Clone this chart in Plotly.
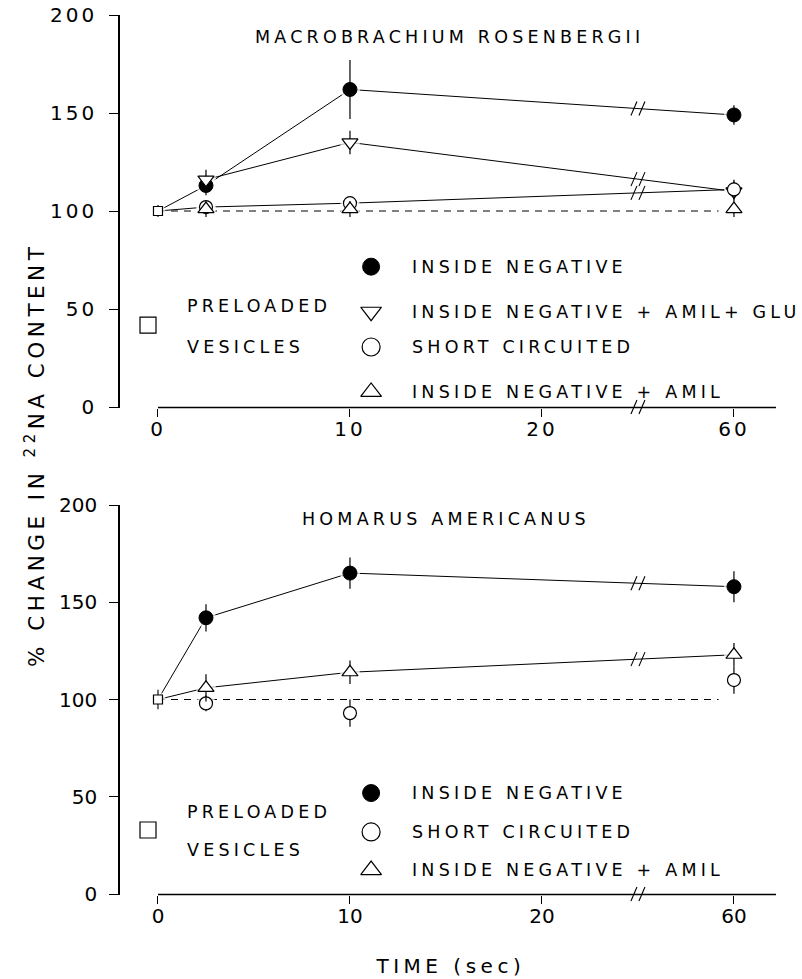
import numpy as np
import plotly.graph_objects as go

# ---------------- data ----------------
TIME_S = [2.5, 10, 60]          # sampling times (sec)
PRELOAD_TIME = 0
PRELOAD_PCT = 100
BASELINE_PCT = 100

# Macrobrachium rosenbergii
MR_INSIDE_NEG = [113, 162, 149]
MR_INSIDE_NEG_ERR = [5, 15, 5]
MR_AMIL_GLU = [116, 135, 110]
MR_AMIL_GLU_ERR = [5, 6, 5]
MR_SHORT = [102, 104, 111]
MR_SHORT_ERR = [3, 3, 5]
MR_AMIL = [101, 101, 101]
MR_AMIL_ERR = [4, 4, 4]
MR_PRELOAD_ERR = 3

# Homarus americanus
HA_INSIDE_NEG = [142, 165, 158]
HA_INSIDE_NEG_ERR = [7, 8, 8]
HA_SHORT = [98, 93, 110]
HA_SHORT_ERR = [4, 7, 7]
HA_AMIL = [106, 114, 123]
HA_AMIL_ERR = [7, 6, 6]
HA_PRELOAD_ERR = 5

X_TICK_TIMES = [0, 10, 20, 60]
X_TICK_LABELS = ["0", "10", "20", "60"]
Y_TICKS = [0, 50, 100, 150, 200]

LBL_INSIDE_NEG = "INSIDE NEGATIVE"
LBL_AMIL_GLU = "INSIDE NEGATIVE + AMIL+ GLU"
LBL_SHORT = "SHORT CIRCUITED"
LBL_AMIL = "INSIDE NEGATIVE + AMIL"

# ---------------- broken time axis ----------------
BREAK_TIMES = [0, 20, 60]
BREAK_POS = [0, 20, 30]
BREAK_AT = 25


def axis_pos(t):
    return np.interp(t, BREAK_TIMES, BREAK_POS)


# ---------------- geometry ----------------
W, H = 802, 979
ML, MRG = 120, 26
PW = W - ML - MRG
X_RANGE = [-1.979, 32.19]
Y_RANGE = [-0.4, 200]
PANEL_PX = {"top": (407, 15), "bot": (894, 505)}   # pixel rows of y=0 and y=200

FONT = "DejaVu Sans"
TEXT_SIZE = 17.5
INK = "black"


def px_x(pos):
    return ML + (pos - X_RANGE[0]) * PW / (X_RANGE[1] - X_RANGE[0])


def px_y(panel, val):
    y0, y200 = PANEL_PX[panel]
    return y0 - val * (y0 - y200) / 200.0


def paper_x(px):
    return (px - ML) / PW


def paper_y(py):
    return 1 - py / H


def domain(panel):
    return [paper_y(px_y(panel, Y_RANGE[0])), paper_y(px_y(panel, Y_RANGE[1]))]


fig = go.Figure()
shapes = []
annotations = []

SYM = {
    "filled": dict(symbol="circle", color=INK, size=14, line=dict(color=INK, width=1)),
    "circle": dict(symbol="circle", color="white", size=13, line=dict(color=INK, width=1.2)),
    "tri_up": dict(symbol="triangle-up", color="white", size=14, line=dict(color=INK, width=1.2)),
    "tri_dn": dict(symbol="triangle-down", color="white", size=14, line=dict(color=INK, width=1.2)),
    "square": dict(symbol="square", color="white", size=9, line=dict(color=INK, width=1.2)),
}


def break_mark(cx, cy):
    for dx in (-4, 4):
        shapes.append(dict(
            type="line", xref="paper", yref="paper",
            x0=paper_x(cx + dx - 3), y0=paper_y(cy + 7),
            x1=paper_x(cx + dx + 3), y1=paper_y(cy - 7),
            line=dict(color=INK, width=1.1)))


def label(text, x, y, xa, ya):
    annotations.append(dict(text=text, x=x, y=y, xref=xa, yref=ya,
                            xanchor="left", yanchor="middle", showarrow=False,
                            font=dict(family=FONT, size=TEXT_SIZE, color=INK)))


def add_panel(panel, xa, ya, series, preload_err, title, title_x, title_y, legend, legend_y, sq_y, pre_y):
    xs = axis_pos(TIME_S)
    px0 = axis_pos(PRELOAD_TIME)

    # dashed reference level
    fig.add_trace(go.Scatter(
        x=[px0, 29.2], y=[BASELINE_PCT, BASELINE_PCT], mode="lines",
        line=dict(color=INK, width=1, dash="7px,6px"),
        xaxis=xa, yaxis=ya, showlegend=False, hoverinfo="skip"))

    # connecting lines
    for s in series:
        if not s["line"]:
            continue
        lx = list(xs)
        ly = list(s["y"])
        if s["from_preload"]:
            lx = [px0] + lx
            ly = [PRELOAD_PCT] + ly
        fig.add_trace(go.Scatter(
            x=lx, y=ly, mode="lines", line=dict(color=INK, width=1),
            xaxis=xa, yaxis=ya, showlegend=False, hoverinfo="skip"))
        yb = float(np.interp(BREAK_AT, lx, ly))
        break_mark(px_x(BREAK_AT), px_y(panel, yb))

    # white halos leave small gaps where lines meet the symbols
    hx, hy, hs = [px0], [PRELOAD_PCT], [SYM["square"]["size"] + 6]
    for s in series:
        hx += list(xs)
        hy += list(s["y"])
        hs += [SYM[s["sym"]]["size"] + 6] * len(xs)
    fig.add_trace(go.Scatter(
        x=hx, y=hy, mode="markers",
        marker=dict(size=hs, color="white", symbol="circle", line=dict(width=0)),
        xaxis=xa, yaxis=ya, showlegend=False, hoverinfo="skip"))

    # preloaded vesicles
    fig.add_trace(go.Scatter(
        x=[px0], y=[PRELOAD_PCT], mode="markers", marker=SYM["square"],
        error_y=dict(type="data", array=[preload_err], width=0, thickness=1.1, color=INK),
        xaxis=xa, yaxis=ya, showlegend=False))

    # data symbols with error bars
    for s in series:
        fig.add_trace(go.Scatter(
            x=xs, y=s["y"], mode="markers", marker=SYM[s["sym"]],
            error_y=dict(type="data", array=s["err"], width=0, thickness=1.2, color=INK),
            xaxis=xa, yaxis=ya, showlegend=False, name=s["name"]))

    # x axis line (starts at time zero) and its break
    shapes.append(dict(type="line", xref="paper", yref="paper",
                       x0=paper_x(px_x(0)), x1=paper_x(px_x(X_RANGE[1])),
                       y0=paper_y(px_y(panel, 0) + 0.5), y1=paper_y(px_y(panel, 0) + 0.5),
                       line=dict(color=INK, width=1.5)))
    break_mark(px_x(BREAK_AT), px_y(panel, 0))

    # panel title
    label(title, title_x, title_y, xa, ya)

    # key
    kx, tx = 11.1, 13.1
    for (sym, text), ly_ in zip(legend, legend_y):
        m = dict(SYM[sym])
        m["size"] = 18 if sym != "filled" else 17
        fig.add_trace(go.Scatter(x=[kx], y=[ly_], mode="markers", marker=m,
                                 xaxis=xa, yaxis=ya, showlegend=False, hoverinfo="skip"))
        label(text, tx, ly_, xa, ya)
    msq = dict(SYM["square"])
    msq["size"] = 16
    fig.add_trace(go.Scatter(x=[-0.52], y=[sq_y], mode="markers", marker=msq,
                             xaxis=xa, yaxis=ya, showlegend=False, hoverinfo="skip",
                             cliponaxis=False))
    for txt, yy in zip(["PRELOADED", "VESICLES"], pre_y):
        label(txt, 1.4, yy, xa, ya)


top_series = [
    dict(name=LBL_INSIDE_NEG, y=MR_INSIDE_NEG, err=MR_INSIDE_NEG_ERR, sym="filled", line=True, from_preload=True),
    dict(name=LBL_AMIL_GLU, y=MR_AMIL_GLU, err=MR_AMIL_GLU_ERR, sym="tri_dn", line=True, from_preload=False),
    dict(name=LBL_SHORT, y=MR_SHORT, err=MR_SHORT_ERR, sym="circle", line=True, from_preload=True),
    dict(name=LBL_AMIL, y=MR_AMIL, err=MR_AMIL_ERR, sym="tri_up", line=False, from_preload=False),
]
bot_series = [
    dict(name=LBL_INSIDE_NEG, y=HA_INSIDE_NEG, err=HA_INSIDE_NEG_ERR, sym="filled", line=True, from_preload=True),
    dict(name=LBL_SHORT, y=HA_SHORT, err=HA_SHORT_ERR, sym="circle", line=False, from_preload=False),
    dict(name=LBL_AMIL, y=HA_AMIL, err=HA_AMIL_ERR, sym="tri_up", line=True, from_preload=True),
]

add_panel("top", "x", "y", top_series, MR_PRELOAD_ERR,
          "MACROBRACHIUM ROSENBERGII", 4.95, 189,
          [("filled", LBL_INSIDE_NEG), ("tri_dn", LBL_AMIL_GLU), ("circle", LBL_SHORT), ("tri_up", LBL_AMIL)],
          [71.6, 48.6, 30.6, 7.7], 41.8, [51.5, 30.6])
add_panel("bot", "x2", "y2", bot_series, HA_PRELOAD_ERR,
          "HOMARUS AMERICANUS", 7.4, 192.8,
          [("filled", LBL_INSIDE_NEG), ("circle", LBL_SHORT), ("tri_up", LBL_AMIL)],
          [51.9, 31.9, 12.3], 32.9, [42.2, 22.6])

tick_font = dict(family=FONT, size=20, color=INK)
xaxis_style = dict(range=X_RANGE, tickvals=list(axis_pos(X_TICK_TIMES)), ticktext=X_TICK_LABELS,
                   ticks="outside", ticklen=8, tickwidth=1.3, tickcolor=INK, automargin=False,
                   showline=False, showgrid=False, zeroline=False, tickfont=tick_font,
                   ticklabelstandoff=-5)
yaxis_style = dict(range=Y_RANGE, tickvals=Y_TICKS, ticks="outside", ticklen=9, tickwidth=1.3,
                   tickcolor=INK, showline=True, linecolor=INK, linewidth=1.5, automargin=False,
                   showgrid=False, zeroline=False, tickfont=tick_font, ticklabelstandoff=8)

annotations.append(dict(text="% CHANGE IN <sup>22</sup>NA CONTENT", textangle=-90,
                        x=paper_x(35), y=paper_y(455), xref="paper", yref="paper",
                        xanchor="center", yanchor="middle", showarrow=False,
                        font=dict(family=FONT, size=21.5, color=INK)))
annotations.append(dict(text="TIME (sec)", x=paper_x(450), y=paper_y(966), xref="paper", yref="paper",
                        xanchor="center", yanchor="middle", showarrow=False,
                        font=dict(family=FONT, size=20, color=INK)))

fig.update_layout(
    width=W, height=H, margin=dict(l=ML, r=MRG, t=0, b=0, autoexpand=False),
    paper_bgcolor="white", plot_bgcolor="white",
    xaxis=dict(domain=[0, 1], anchor="y", **xaxis_style),
    yaxis=dict(domain=domain("top"), anchor="x", **yaxis_style),
    xaxis2=dict(domain=[0, 1], anchor="y2", **xaxis_style),
    yaxis2=dict(domain=domain("bot"), anchor="x2", **yaxis_style),
    shapes=shapes, annotations=annotations, showlegend=False,
)

# wide lettering of the drawn labels; left-anchored labels keep their left edge
LETTER_SPACING = """
var gd = document.getElementById('{plot_id}');
function spread() {
  gd.querySelectorAll('.xtick text, .ytick text').forEach(function (t) {
    t.style.letterSpacing = '3px';
  });
  gd.querySelectorAll('g.annotation').forEach(function (g) {
    var t = g.querySelector('text.annotation-text');
    if (!t || t.getAttribute('data-spread')) return;
    var a = gd._fullLayout.annotations[+g.getAttribute('data-index')];
    if (a && a.xanchor === 'left') {
      var bb = t.getBBox();
      t.setAttribute('text-anchor', 'start');
      t.setAttribute('x', bb.x);
      t.style.letterSpacing = '4.2px';
    } else {
      t.style.letterSpacing = '4.5px';
    }
    t.setAttribute('data-spread', '1');
  });
}
spread();
gd.on('plotly_afterplot', spread);
"""

fig.write_html("out.html", post_script=LETTER_SPACING, config={"displayModeBar": False})
